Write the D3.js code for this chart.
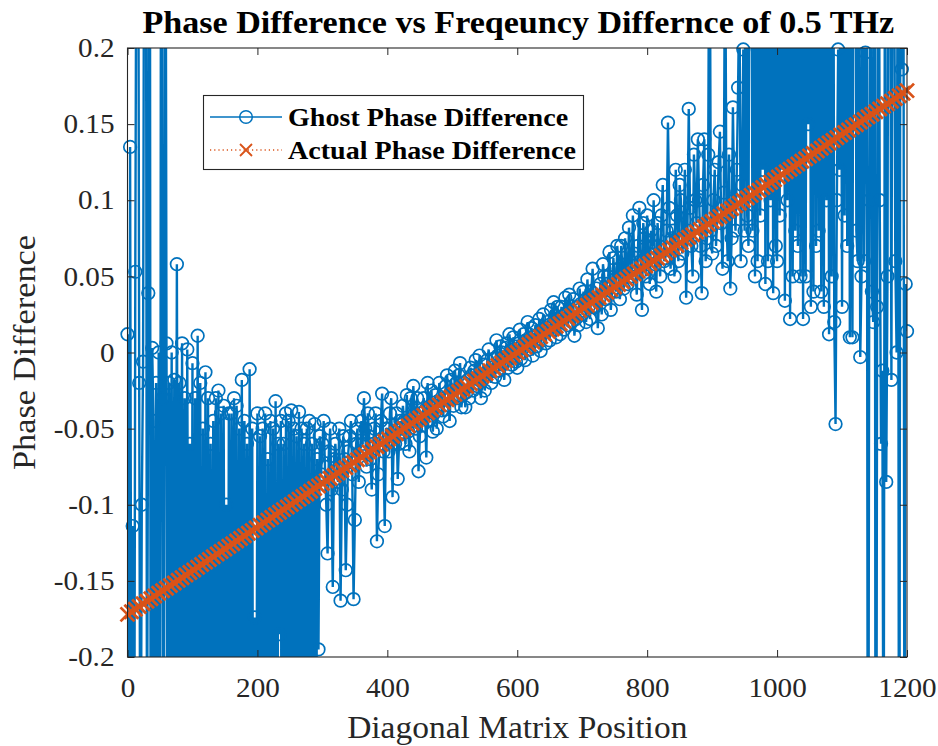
<!DOCTYPE html>
<html>
<head>
<meta charset="utf-8">
<script src="https://cdn.jsdelivr.net/npm/d3@7"></script>
<style>
  body { margin: 0; background: #fff; }
  svg { display: block; }
</style>
</head>
<body>
<svg id="chart" width="938" height="746"></svg>
<script>
// ---- text ----
const titleText = "Phase Difference vs Freqeuncy Differnce of 0.5 THz";
const xLabelText = "Diagonal Matrix Position";
const yLabelText = "Phase Difference";
const seriesNames = ["Ghost Phase Difference", "Actual Phase Difference"];

// ---- axes ----
const xDomain = [0, 1200];
const yDomain = [-0.2, 0.2];
const xTicks = [0, 200, 400, 600, 800, 1000, 1200];
const yTicks = [-0.2, -0.15, -0.1, -0.05, 0, 0.05, 0.1, 0.15, 0.2];

// ---- ghost phase difference, one value every 2 positions (0..1200) ----
const ghostStep = 2;
const ghostPhase = [
  0.012, -0.6, 0.135, -0.3, -0.114, -0.4, 0.053, 0.35, 0.45, -0.02, -0.35, -0.1, -0.006, 0.4, 0.5, -0.3, 0.039, 0.6, -0.5, 0.003,
  -0.045, -0.4, -0.02, -0.3, 0.0, -0.5, 0.6, -0.03, -0.4, 0.5, 0.006, -0.35, -0.02, -0.25, 0.0, -0.4, -0.018, -0.3, 0.058, -0.25,
  -0.02, -0.3, 0.006, -0.35, -0.03, -0.25, 0.002, -0.28, -0.06, -0.4, -0.007, -0.5, -0.03, -0.21, 0.011, -0.3, -0.02, -0.6, -0.05, -0.4,
  -0.013, -0.5, -0.03, -0.35, -0.06, -0.4, -0.045, -0.22, -0.03, -0.3, -0.025, -0.5, -0.04, -0.26, -0.035, -0.3, -0.1, -0.45, -0.04, -0.3,
  -0.04, -0.27, -0.03, -0.3, -0.035, -0.45, -0.05, -0.4, -0.018, -0.28, -0.045, -0.3, -0.06, -0.5, -0.011, -0.3, -0.05, -0.42, -0.174, -0.35,
  -0.04, -0.45, -0.055, -0.26, -0.05, -0.3, -0.04, -0.6, -0.07, -0.35, -0.045, -0.4, -0.05, -0.32, -0.032, -0.6, -0.06, -0.185, -0.045, -0.5,
  -0.06, -0.3, -0.04, -0.5, -0.045, -0.28, -0.038, -0.4, -0.05, -0.33, -0.055, -0.3, -0.039, -0.45, -0.05, -0.24, -0.06, -0.35, -0.05, -0.3,
  -0.045, -0.45, -0.06, -0.3, -0.047, -0.4, -0.07, -0.195, -0.055, -0.08, -0.06, -0.045, -0.075, -0.1, -0.132, -0.065, -0.05, -0.09, -0.154, -0.07,
  -0.06, -0.075, -0.085, -0.05, -0.163, -0.09, -0.055, -0.07, -0.143, -0.1, -0.065, -0.055, -0.045, -0.08, -0.162, -0.11, -0.06, -0.05, -0.085, -0.065,
  -0.045, -0.06, -0.03, -0.05, -0.075, -0.04, -0.055, -0.07, -0.09, -0.06, -0.05, -0.04, -0.124, -0.08, -0.06, -0.045, -0.027, -0.065, -0.114, -0.05,
  -0.05, -0.065, -0.04, -0.03, -0.095, -0.055, -0.06, -0.04, -0.083, -0.06, -0.045, -0.05, -0.035, -0.045, -0.06, -0.028, -0.052, -0.065, -0.03, -0.045,
  -0.022, -0.04, -0.05, -0.03, -0.078, -0.055, -0.04, -0.048, -0.03, -0.038, -0.069, -0.02, -0.045, -0.035, -0.025, -0.052, -0.04, -0.028, -0.05, -0.035,
  -0.02, -0.032, -0.038, -0.042, -0.03, -0.022, -0.015, -0.03, -0.045, -0.018, -0.025, -0.035, -0.012, -0.02, -0.03, -0.015, -0.007, -0.036, -0.028, -0.02,
  -0.036, -0.026, -0.018, -0.03, -0.01, -0.015, -0.025, -0.012, -0.005, -0.022, -0.02, -0.002, -0.03, -0.018, -0.008, -0.025, -0.015, -0.005, 0.002, -0.012,
  -0.02, -0.01, -0.004, -0.016, 0.008, -0.002, -0.012, 0.004, 0.0, -0.008, -0.018, 0.003, 0.006, -0.01, 0.012, 0.0, -0.008, 0.01, 0.004, -0.006,
  -0.01, 0.006, 0.015, -0.004, 0.005, 0.012, -0.005, 0.008, 0.02, 0.002, 0.008, 0.016, -0.002, 0.01, 0.018, 0.004, 0.012, 0.022, 0.001, 0.015,
  0.025, 0.014, 0.006, 0.02, 0.016, 0.008, 0.028, 0.018, 0.033, 0.024, 0.01, 0.03, 0.022, 0.012, 0.03, 0.024, 0.015, 0.036, 0.026, 0.018,
  0.038, 0.028, 0.02, 0.035, 0.011, 0.022, 0.03, 0.018, 0.042, 0.032, 0.025, 0.04, 0.034, 0.02, 0.048, 0.03, 0.022, 0.04, 0.055, 0.03,
  0.03, 0.042, 0.016, 0.035, 0.045, 0.025, 0.058, 0.05, 0.035, 0.045, 0.05, 0.066, 0.028, 0.04, 0.062, 0.048, 0.04, 0.07, 0.055, 0.035,
  0.07, 0.055, 0.042, 0.075, 0.058, 0.045, 0.082, 0.06, 0.05, 0.09, 0.065, 0.052, 0.038, 0.07, 0.095, 0.06, 0.028, 0.085, 0.075, 0.05,
  0.09, 0.065, 0.045, 0.08, 0.07, 0.1, 0.058, 0.04, 0.085, 0.07, 0.05, 0.09, 0.11, 0.06, 0.062, 0.08, 0.151, 0.095, 0.055, 0.075,
  0.08, 0.05, 0.12, 0.09, 0.06, 0.11, 0.1, 0.065, 0.075, 0.12, 0.036, 0.08, 0.16, 0.095, 0.07, 0.05, 0.13, 0.1, 0.085, 0.14,
  0.1, 0.07, 0.039, 0.11, 0.14, 0.06, 0.075, 0.13, 0.35, 0.08, 0.065, 0.1, 0.12, 0.07, 0.09, 0.125, 0.145, 0.085, 0.055, 0.105,
  0.3, 0.09, 0.06, 0.13, 0.042, 0.075, 0.161, 0.1, 0.08, 0.12, 0.174, 0.25, 0.06, 0.11, 0.199, 0.08, 0.5, 0.09, 0.07, 0.4,
  0.4, 0.08, 0.5, 0.05, 0.6, 0.06, 0.45, 0.09, 0.3, 0.12, 0.45, 0.045, 0.55, 0.06, 0.4, 0.1, 0.5, 0.039, 0.45, 0.07,
  0.06, 0.45, 0.09, 0.35, 0.12, 0.5, 0.034, 0.3, 0.1, 0.7, 0.022, 0.4, 0.05, 0.25, 0.08, 0.3, 0.07, 0.5, 0.05, 0.6,
  0.022, 0.35, 0.05, 0.4, 0.15, 0.45, 0.03, 0.3, 0.04, 0.8, 0.07, 0.5, 0.08, 0.3, 0.04, 0.35, 0.03, 0.6, 0.1, 0.45,
  0.012, 0.3, 0.05, 0.45, 0.02, -0.047, 0.1, 0.199, 0.12, 0.35, 0.03, 0.4, 0.09, 0.55, 0.07, 0.5, 0.01, 0.3, 0.01, 0.4,
  0.5, 0.08, 0.06, 0.4, -0.003, 0.05, 0.4, 0.06, 0.197, 0.3, -0.5, 0.1, 0.35, 0.04, 0.02, 0.5, -0.6, 0.03, 0.45, 0.1,
  -0.06, -0.012, -0.35, 0.3, -0.085, 0.05, 0.5, 0.3, -0.018, 0.4, 0.3, 0.06, 0.0, 0.35, -0.5, 0.4, 0.186, 0.5, -0.3, 0.045,
  0.014
];

// ---- actual phase difference, one value every 6 positions (0..1200) ----
const actualStep = 6;
const actualPhase = [
  -0.1720, -0.1703, -0.1686, -0.1668, -0.1651, -0.1634, -0.1617, -0.1600, -0.1582, -0.1565,
  -0.1548, -0.1531, -0.1514, -0.1496, -0.1479, -0.1462, -0.1445, -0.1428, -0.1410, -0.1393,
  -0.1376, -0.1359, -0.1342, -0.1324, -0.1307, -0.1290, -0.1273, -0.1256, -0.1238, -0.1221,
  -0.1204, -0.1187, -0.1170, -0.1152, -0.1135, -0.1118, -0.1101, -0.1084, -0.1066, -0.1049,
  -0.1032, -0.1015, -0.0998, -0.0980, -0.0963, -0.0946, -0.0929, -0.0912, -0.0894, -0.0877,
  -0.0860, -0.0843, -0.0826, -0.0808, -0.0791, -0.0774, -0.0757, -0.0740, -0.0722, -0.0705,
  -0.0688, -0.0671, -0.0654, -0.0636, -0.0619, -0.0602, -0.0585, -0.0568, -0.0550, -0.0533,
  -0.0516, -0.0499, -0.0482, -0.0464, -0.0447, -0.0430, -0.0413, -0.0396, -0.0378, -0.0361,
  -0.0344, -0.0327, -0.0310, -0.0292, -0.0275, -0.0258, -0.0241, -0.0224, -0.0206, -0.0189,
  -0.0172, -0.0155, -0.0138, -0.0120, -0.0103, -0.0086, -0.0069, -0.0052, -0.0034, -0.0017,
  0.0000, 0.0017, 0.0034, 0.0052, 0.0069, 0.0086, 0.0103, 0.0120, 0.0138, 0.0155,
  0.0172, 0.0189, 0.0206, 0.0224, 0.0241, 0.0258, 0.0275, 0.0292, 0.0310, 0.0327,
  0.0344, 0.0361, 0.0378, 0.0396, 0.0413, 0.0430, 0.0447, 0.0464, 0.0482, 0.0499,
  0.0516, 0.0533, 0.0550, 0.0568, 0.0585, 0.0602, 0.0619, 0.0636, 0.0654, 0.0671,
  0.0688, 0.0705, 0.0722, 0.0740, 0.0757, 0.0774, 0.0791, 0.0808, 0.0826, 0.0843,
  0.0860, 0.0877, 0.0894, 0.0912, 0.0929, 0.0946, 0.0963, 0.0980, 0.0998, 0.1015,
  0.1032, 0.1049, 0.1066, 0.1084, 0.1101, 0.1118, 0.1135, 0.1152, 0.1170, 0.1187,
  0.1204, 0.1221, 0.1238, 0.1256, 0.1273, 0.1290, 0.1307, 0.1324, 0.1342, 0.1359,
  0.1376, 0.1393, 0.1410, 0.1428, 0.1445, 0.1462, 0.1479, 0.1496, 0.1514, 0.1531,
  0.1548, 0.1565, 0.1582, 0.1600, 0.1617, 0.1634, 0.1651, 0.1668, 0.1686, 0.1703,
  0.1720
];

// ---- style ----
const BLUE = "#0072BD";
const ORANGE = "#D95319";
const AXIS = "#262626";
const FONT = "'Liberation Serif', 'Times New Roman', serif";
const SX = 1.08;               // widening of the lettering along its baseline
const plot = { left: 127.5, right: 907, top: 48, bottom: 657 };

const svg = d3.select("#chart");

const x = d3.scaleLinear().domain(xDomain).range([plot.left, plot.right]);
const y = d3.scaleLinear().domain(yDomain).range([plot.bottom, plot.top]);

const ghost = ghostPhase.map((v, i) => ({ pos: i * ghostStep, v }));
const actual = actualPhase.map((v, i) => ({ pos: i * actualStep, v }));
const inRange = d => d.v >= yDomain[0] && d.v <= yDomain[1];

// clip the connecting lines to the axes box
svg.append("defs").append("clipPath").attr("id", "plotClip")
  .append("rect")
  .attr("x", plot.left).attr("y", plot.top)
  .attr("width", plot.right - plot.left).attr("height", plot.bottom - plot.top);

const line = d3.line().x(d => x(d.pos)).y(d => y(d.v));

// ghost series: line + open circles
svg.append("path")
  .datum(ghost)
  .attr("clip-path", "url(#plotClip)")
  .attr("d", line)
  .attr("fill", "none")
  .attr("stroke", BLUE)
  .attr("stroke-width", 2.4)
  .attr("stroke-linejoin", "bevel");

svg.append("g").selectAll("circle")
  .data(ghost.filter(inRange))
  .join("circle")
  .attr("cx", d => x(d.pos))
  .attr("cy", d => y(d.v))
  .attr("r", 6.3)
  .attr("fill", "none")
  .attr("stroke", BLUE)
  .attr("stroke-width", 1.7);

// actual series: dotted line + x markers
const xMark = s => `M${-s},${-s}L${s},${s}M${-s},${s}L${s},${-s}`;

svg.append("path")
  .datum(actual)
  .attr("clip-path", "url(#plotClip)")
  .attr("d", line)
  .attr("fill", "none")
  .attr("stroke", ORANGE)
  .attr("stroke-width", 1.2)
  .attr("stroke-dasharray", "1.2,3");

svg.append("g").selectAll("path")
  .data(actual.filter(inRange))
  .join("path")
  .attr("transform", d => `translate(${x(d.pos)},${y(d.v)})`)
  .attr("d", xMark(7))
  .attr("fill", "none")
  .attr("stroke", ORANGE)
  .attr("stroke-width", 2.8);

// ---- axes box and ticks (ticks point inward, mirrored on top/right) ----
const tickLen = 7;
const styleAxis = g => {
  g.select(".domain").remove();
  g.selectAll(".tick line").attr("stroke", AXIS).attr("stroke-width", 1);
  g.selectAll(".tick text")
    .attr("fill", AXIS)
    .style("font-family", FONT)
    .style("font-size", "27px");
};
const stretch = sel => sel.each(function () {
  const t = d3.select(this);
  const tx = +t.attr("x") || 0;
  t.attr("x", 0).attr("transform", `translate(${tx},0) scale(${SX},1)`);
});

svg.append("g")
  .attr("transform", `translate(0,${plot.bottom})`)
  .call(d3.axisBottom(x).tickValues(xTicks).tickSize(-tickLen).tickPadding(21)
    .tickFormat(d => String(d)))
  .call(styleAxis)
  .call(g => g.selectAll(".tick text").call(stretch));

svg.append("g")
  .attr("transform", `translate(${plot.left},0)`)
  .call(d3.axisLeft(y).tickValues(yTicks).tickSize(-tickLen).tickPadding(13)
    .tickFormat(d => String(+d.toFixed(2))))
  .call(styleAxis)
  .call(g => g.selectAll(".tick text").call(stretch));

svg.append("g")
  .attr("transform", `translate(0,${plot.top})`)
  .call(d3.axisTop(x).tickValues(xTicks).tickSize(-tickLen).tickFormat(""))
  .call(styleAxis);

svg.append("g")
  .attr("transform", `translate(${plot.right},0)`)
  .call(d3.axisRight(y).tickValues(yTicks).tickSize(-tickLen).tickFormat(""))
  .call(styleAxis);

svg.append("rect")
  .attr("x", plot.left).attr("y", plot.top)
  .attr("width", plot.right - plot.left).attr("height", plot.bottom - plot.top)
  .attr("fill", "none").attr("stroke", AXIS).attr("stroke-width", 1.1);

// ---- titles ----
const midX = (plot.left + plot.right) / 2;
const midY = (plot.top + plot.bottom) / 2;

svg.append("text")
  .attr("transform", `translate(${midX + 1},33) scale(1.1,1)`)
  .attr("text-anchor", "middle")
  .style("font-family", FONT).style("font-size", "31px").style("font-weight", "bold")
  .attr("fill", "#000")
  .text(titleText);

svg.append("text")
  .attr("transform", `translate(${midX},738) scale(${SX},1)`)
  .attr("text-anchor", "middle")
  .style("font-family", FONT).style("font-size", "31px")
  .attr("fill", AXIS)
  .text(xLabelText);

svg.append("text")
  .attr("transform", `translate(35,${midY}) rotate(-90) scale(1.11,1)`)
  .attr("text-anchor", "middle")
  .style("font-family", FONT).style("font-size", "31px")
  .attr("fill", AXIS)
  .text(yLabelText);

// ---- legend ----
const legend = svg.append("g");
legend.append("rect")
  .attr("x", 203.5).attr("y", 95.5).attr("width", 380).attr("height", 74)
  .attr("fill", "#fff").attr("stroke", AXIS).attr("stroke-width", 1.1);

const rows = [
  { name: seriesNames[0], y: 117, color: BLUE, dash: null, marker: "circle" },
  { name: seriesNames[1], y: 150, color: ORANGE, dash: "1.2,3", marker: "x" }
];
rows.forEach(r => {
  legend.append("line")
    .attr("x1", 210).attr("x2", 282).attr("y1", r.y).attr("y2", r.y)
    .attr("stroke", r.color).attr("stroke-width", 1.4)
    .attr("stroke-dasharray", r.dash);
  if (r.marker === "circle") {
    legend.append("circle").attr("cx", 246).attr("cy", r.y).attr("r", 6.3)
      .attr("fill", "none").attr("stroke", r.color).attr("stroke-width", 1.5);
  } else {
    legend.append("path").attr("transform", `translate(246,${r.y})`)
      .attr("d", xMark(6)).attr("fill", "none")
      .attr("stroke", r.color).attr("stroke-width", 1.8);
  }
  legend.append("text")
    .attr("transform", `translate(288,${r.y + 9}) scale(${SX},1)`)
    .style("font-family", FONT).style("font-size", "26px").style("font-weight", "bold")
    .attr("fill", "#000")
    .text(r.name);
});
</script>
</body>
</html>
